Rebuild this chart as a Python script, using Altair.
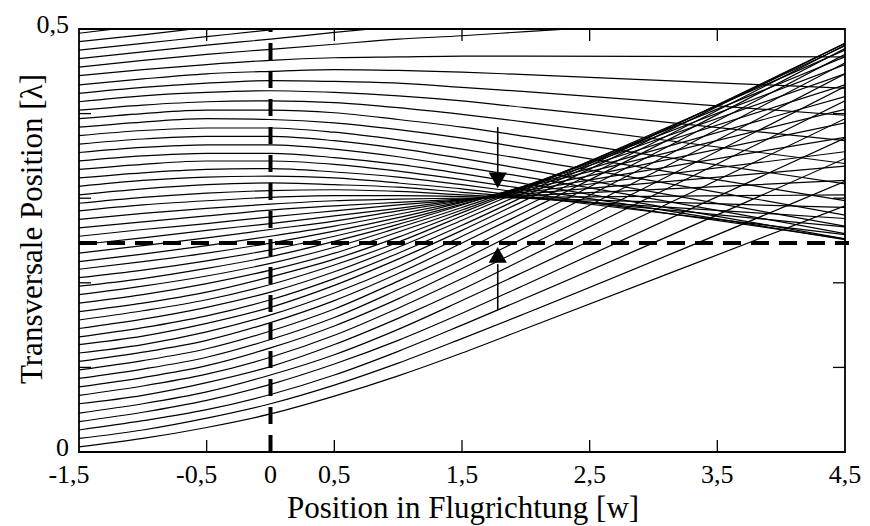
import altair as alt
import pandas as pd

x_grid = [-1.5, -1.0, -0.5, 0.0, 0.5, 1.0, 1.5, 2.0, 4.5]

# transverse position (in lambda) of each trajectory at the x_grid positions
trajectories = [
    [0.006, 0.016, 0.029, 0.045, 0.066, 0.090, 0.117, 0.146, 0.291],
    [0.016, 0.026, 0.040, 0.057, 0.079, 0.105, 0.134, 0.164, 0.320],
    [0.026, 0.037, 0.050, 0.068, 0.091, 0.119, 0.150, 0.182, 0.347],
    [0.036, 0.047, 0.061, 0.080, 0.104, 0.132, 0.164, 0.198, 0.371],
    [0.046, 0.057, 0.071, 0.091, 0.115, 0.145, 0.179, 0.214, 0.394],
    [0.057, 0.067, 0.082, 0.101, 0.127, 0.158, 0.192, 0.229, 0.415],
    [0.067, 0.078, 0.092, 0.112, 0.138, 0.170, 0.205, 0.242, 0.432],
    [0.077, 0.088, 0.102, 0.123, 0.149, 0.181, 0.217, 0.254, 0.447],
    [0.087, 0.098, 0.112, 0.133, 0.159, 0.192, 0.227, 0.265, 0.460],
    [0.097, 0.108, 0.122, 0.143, 0.169, 0.202, 0.237, 0.275, 0.470],
    [0.107, 0.118, 0.132, 0.153, 0.179, 0.211, 0.247, 0.284, 0.477],
    [0.117, 0.127, 0.142, 0.162, 0.188, 0.219, 0.255, 0.291, 0.481],
    [0.127, 0.137, 0.152, 0.171, 0.197, 0.228, 0.262, 0.298, 0.483],
    [0.136, 0.147, 0.161, 0.180, 0.205, 0.235, 0.268, 0.303, 0.483],
    [0.146, 0.157, 0.171, 0.189, 0.213, 0.242, 0.274, 0.307, 0.480],
    [0.156, 0.167, 0.180, 0.198, 0.221, 0.248, 0.279, 0.311, 0.475],
    [0.166, 0.176, 0.189, 0.207, 0.228, 0.254, 0.283, 0.313, 0.467],
    [0.176, 0.186, 0.199, 0.215, 0.235, 0.260, 0.286, 0.314, 0.458],
    [0.186, 0.196, 0.208, 0.223, 0.242, 0.265, 0.289, 0.315, 0.447],
    [0.196, 0.205, 0.217, 0.231, 0.249, 0.269, 0.292, 0.315, 0.434],
    [0.206, 0.215, 0.226, 0.239, 0.255, 0.273, 0.293, 0.314, 0.420],
    [0.216, 0.225, 0.235, 0.247, 0.261, 0.277, 0.295, 0.313, 0.405],
    [0.225, 0.234, 0.244, 0.255, 0.267, 0.281, 0.296, 0.311, 0.389],
    [0.235, 0.244, 0.253, 0.263, 0.273, 0.285, 0.297, 0.309, 0.372],
    [0.245, 0.253, 0.262, 0.270, 0.279, 0.288, 0.298, 0.307, 0.355],
    [0.255, 0.263, 0.270, 0.278, 0.285, 0.292, 0.298, 0.305, 0.338],
    [0.265, 0.272, 0.279, 0.286, 0.291, 0.295, 0.299, 0.303, 0.321],
    [0.275, 0.282, 0.288, 0.293, 0.297, 0.299, 0.300, 0.301, 0.304],
    [0.285, 0.292, 0.297, 0.301, 0.303, 0.303, 0.302, 0.300, 0.289],
    [0.294, 0.301, 0.306, 0.309, 0.310, 0.308, 0.304, 0.300, 0.276],
    [0.304, 0.311, 0.316, 0.318, 0.316, 0.313, 0.307, 0.301, 0.266],
    [0.314, 0.321, 0.325, 0.326, 0.324, 0.318, 0.311, 0.302, 0.257],
    [0.324, 0.330, 0.334, 0.335, 0.331, 0.325, 0.316, 0.306, 0.252],
    [0.334, 0.340, 0.344, 0.344, 0.340, 0.332, 0.322, 0.311, 0.251],
    [0.344, 0.350, 0.353, 0.353, 0.348, 0.340, 0.329, 0.317, 0.252],
    [0.354, 0.360, 0.363, 0.363, 0.358, 0.349, 0.337, 0.325, 0.258],
    [0.364, 0.370, 0.373, 0.373, 0.368, 0.359, 0.347, 0.334, 0.267],
    [0.374, 0.380, 0.383, 0.383, 0.378, 0.369, 0.358, 0.346, 0.280],
    [0.384, 0.390, 0.394, 0.393, 0.389, 0.381, 0.371, 0.359, 0.297],
    [0.394, 0.400, 0.404, 0.404, 0.401, 0.393, 0.384, 0.373, 0.317],
    [0.404, 0.410, 0.414, 0.415, 0.413, 0.407, 0.399, 0.390, 0.341],
    [0.414, 0.421, 0.425, 0.427, 0.425, 0.421, 0.415, 0.407, 0.368],
    [0.424, 0.431, 0.436, 0.439, 0.438, 0.436, 0.431, 0.426, 0.398],
    [0.434, 0.441, 0.447, 0.450, 0.452, 0.451, 0.449, 0.446, 0.430],
    [0.445, 0.452, 0.458, 0.463, 0.466, 0.467, 0.468, 0.468, 0.467],
    [0.455, 0.463, 0.470, 0.476, 0.482, 0.488, 0.492, 0.497, 0.520],
    [0.465, 0.473, 0.481, 0.488, 0.496, 0.503, 0.510, 0.517, 0.552],
    [0.475, 0.483, 0.491, 0.499, 0.508, 0.516, 0.525, 0.533, 0.576],
    [0.485, 0.493, 0.502, 0.511, 0.520, 0.530, 0.541, 0.551, 0.604],
    [0.495, 0.504, 0.513, 0.523, 0.534, 0.546, 0.558, 0.571, 0.636],
]

# reference lines
lens_center_x = [0.0]
node_y = [0.247]

# arrows (x position, shaft end, head centre)
arrow_x = [1.78, 1.78]
arrow_shaft_from = [0.384, 0.168]
arrow_shaft_to = [0.325, 0.222]
arrow_head = [0.321, 0.233]
arrow_shape = ["triangle-down", "triangle-up"]

# axes
x_tick_values = [-0.5, 0.5, 1.5, 2.5, 3.5]
y_tick_values = [0.1, 0.2, 0.3, 0.4]
x_label_values = [-1.5, -0.5, 0.0, 0.5, 1.5, 2.5, 3.5, 4.5]
x_label_texts = ["-1,5", "-0,5", "0", "0,5", "1,5", "2,5", "3,5", "4,5"]
y_label_values = [0.0, 0.5]
y_label_texts = ["0", "0,5"]
x_title = "Position in Flugrichtung [w]"
y_title = "Transversale Position [λ]"

FONT = "Liberation Serif"
W, H = 766, 423

rows = []
for i, ys in enumerate(trajectories):
    for k, (xv, yv) in enumerate(zip(x_grid, ys)):
        rows.append({"line": i, "k": k, "x": xv, "y": yv})
traj_df = pd.DataFrame(rows)

xs = alt.Scale(domain=[-1.5, 4.5], nice=False, zero=False)
ys_ = alt.Scale(domain=[0, 0.5], nice=False, zero=False)


def X(f):
    return alt.X(f, type="quantitative", scale=xs, axis=None)


def Y(f):
    return alt.Y(f, type="quantitative", scale=ys_, axis=None)


lines = alt.Chart(traj_df).mark_line(
    interpolate="monotone", clip=True, color="black", strokeWidth=1.2
).encode(x=X("x"), y=Y("y"), detail="line:N", order="k:Q")

vdash = alt.Chart(pd.DataFrame({"x": lens_center_x})).mark_rule(
    color="black", strokeWidth=4, strokeDash=[17, 11]
).encode(x=X("x"), y=alt.value(H), y2=alt.value(0))

hdash = alt.Chart(pd.DataFrame({"y": node_y})).mark_rule(
    color="black", strokeWidth=4, strokeDash=[18, 10]
).encode(y=Y("y"), x=alt.value(0), x2=alt.value(W + 4))

arrow_df = pd.DataFrame({
    "x": arrow_x, "y1": arrow_shaft_from, "y2": arrow_shaft_to,
    "yh": arrow_head, "shape": arrow_shape,
})
shafts = alt.Chart(arrow_df).mark_rule(color="black", strokeWidth=1.6).encode(
    x=X("x"), y=Y("y1"), y2="y2:Q"
)
heads = alt.Chart(arrow_df).mark_point(
    filled=True, color="black", opacity=1, size=330
).encode(
    x=X("x"), y=Y("yh"),
    shape=alt.Shape("shape:N", scale=None, legend=None),
)

xt = pd.DataFrame({"x": x_tick_values})
yt = pd.DataFrame({"y": y_tick_values})
tick_bottom = alt.Chart(xt).mark_rule(color="black", strokeWidth=1.3).encode(
    x=X("x"), y=alt.value(H), y2=alt.value(H - 12))
tick_top = alt.Chart(xt).mark_rule(color="black", strokeWidth=1.3).encode(
    x=X("x"), y=alt.value(0), y2=alt.value(12))
tick_left = alt.Chart(yt).mark_rule(color="black", strokeWidth=1.3).encode(
    y=Y("y"), x=alt.value(0), x2=alt.value(12))
tick_right = alt.Chart(yt).mark_rule(color="black", strokeWidth=1.3).encode(
    y=Y("y"), x=alt.value(W), x2=alt.value(W - 12))

xl = pd.DataFrame({"v": x_label_values, "t": x_label_texts})
xlab_neg = alt.Chart(xl).transform_filter("datum.v < 0").mark_text(
    font=FONT, fontSize=26, baseline="alphabetic", align="center", dx=-10
).encode(x=X("v"), y=alt.value(H + 31), text="t:N")
xlab_pos = alt.Chart(xl).transform_filter("datum.v >= 0").mark_text(
    font=FONT, fontSize=26, baseline="alphabetic", align="center"
).encode(x=X("v"), y=alt.value(H + 31), text="t:N")

yl = pd.DataFrame({"v": y_label_values, "t": y_label_texts})
ylab = alt.Chart(yl).mark_text(
    font=FONT, fontSize=26, baseline="alphabetic", align="right", dx=-10, dy=4
).encode(x=alt.value(0), y=Y("v"), text="t:N")

xtitle = alt.Chart(pd.DataFrame({"t": [x_title]})).mark_text(
    font=FONT, fontSize=31, baseline="alphabetic", align="center"
).encode(x=alt.value(W / 2 + 1), y=alt.value(H + 66), text="t:N")
ytitle = alt.Chart(pd.DataFrame({"t": [y_title]})).mark_text(
    font=FONT, fontSize=31, baseline="alphabetic", align="center", angle=270
).encode(x=alt.value(-37), y=alt.value(200), text="t:N")

chart = alt.layer(
    lines, vdash, hdash, shafts, heads,
    tick_bottom, tick_top, tick_left, tick_right,
    xlab_neg, xlab_pos, ylab, xtitle, ytitle,
).properties(
    width=W, height=H,
    padding={"left": 79, "top": 29, "right": 25, "bottom": 74},
    autosize=alt.AutoSizeParams(type="none"),
    background="white",
).configure_view(stroke="black", strokeWidth=1.8)

chart.save("out.html", embed_options={"renderer": "svg", "actions": False})
